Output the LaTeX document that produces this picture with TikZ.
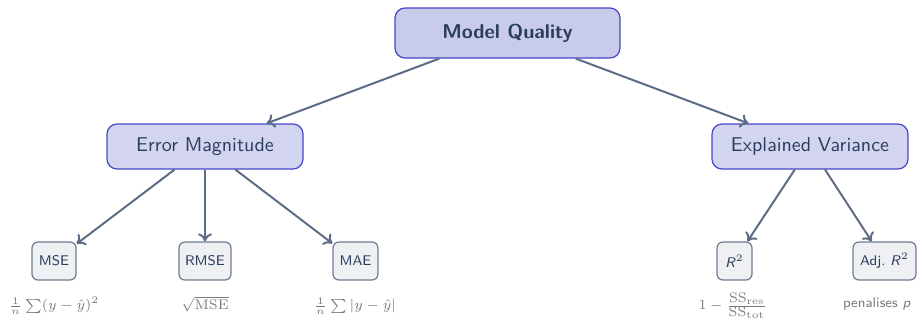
\documentclass[tikz,border=0pt]{standalone}
\usetikzlibrary{arrows.meta}
\usepackage{amsmath}
\definecolor{txtnavy}{HTML}{2C3D5E}
\definecolor{rootfill}{HTML}{C9CBEB}
\definecolor{midfill}{HTML}{D3D5F0}
\definecolor{boxblue}{HTML}{4646C8}
\definecolor{leaffill}{HTML}{EEF0F3}
\definecolor{leafedge}{HTML}{6E7C92}
\definecolor{linkgray}{HTML}{5D6D85}
\definecolor{formgray}{HTML}{7A7A7A}
\newcommand{\sfR}{\textsf{\itshape R}}
\begin{document}
\begin{tikzpicture}[x=0.5pt,y=-0.5pt,
  every node/.style={font=\sffamily, text=txtnavy},
  rootbox/.style={draw=boxblue, fill=rootfill, rounded corners=5pt, line width=0.6pt,
    minimum width=112.5pt, minimum height=25pt, inner sep=2pt, font=\sffamily\bfseries},
  midbox/.style={draw=boxblue, fill=midfill, rounded corners=5pt, line width=0.6pt,
    minimum width=98pt, minimum height=22.5pt, inner sep=2pt},
  leafbox/.style={draw=leafedge, fill=leaffill, rounded corners=3pt, line width=0.6pt,
    minimum height=19pt, inner sep=2pt, font=\sffamily\scriptsize},
  formula/.style={text=formgray, font=\scriptsize},
  link/.style={draw=linkgray, line width=1pt, -{To[length=4pt,width=7pt]}}
]
\useasboundingbox (0,0) rectangle (920,327);

% hierarchy boxes
\node[rootbox] (quality) at (507.5,33) {Model Quality};
\node[midbox] (error) at (205,146.5) {Error Magnitude};
\node[midbox] (variance) at (810,146.5) {Explained Variance};

\node[leafbox, minimum width=22pt] (mse) at (54,261) {MSE};
\node[leafbox, minimum width=26pt] (rmse) at (205,261) {RMSE};
\node[leafbox, minimum width=22.5pt] (mae) at (355.5,261) {MAE};
\node[leafbox, minimum width=17.5pt] (rsq) at (734.5,261) {\sfR$^2$};
\node[leafbox, minimum width=31.5pt] (adjr) at (884.5,261) {Adj.\ \sfR$^2$};

% formulas under the leaves
\node[formula] (fmse) at (54,306) {$\frac{1}{n}\sum(y-\hat{y})^2$};
\node[formula] (frmse) at (205,304) {$\sqrt{\mathrm{MSE}}$};
\node[formula] (fmae) at (355,306) {$\frac{1}{n}\sum|y-\hat{y}|$};
\node[formula] (frsq) at (733,306) {$1-\frac{\textstyle\mathrm{SS}_{\mathrm{res}}}{\textstyle\mathrm{SS}_{\mathrm{tot}}}$};
\node[formula, font=\sffamily\scriptsize] (fadj) at (877,304) {penalises \textit{p}};

% connectors
\draw[link] (quality) -- (error);
\draw[link] (quality) -- (variance);
\draw[link] (error) -- (mse);
\draw[link] (error) -- (rmse);
\draw[link] (error) -- (mae);
\draw[link] (variance) -- (rsq);
\draw[link] (variance) -- (adjr);
\end{tikzpicture}
\end{document}
